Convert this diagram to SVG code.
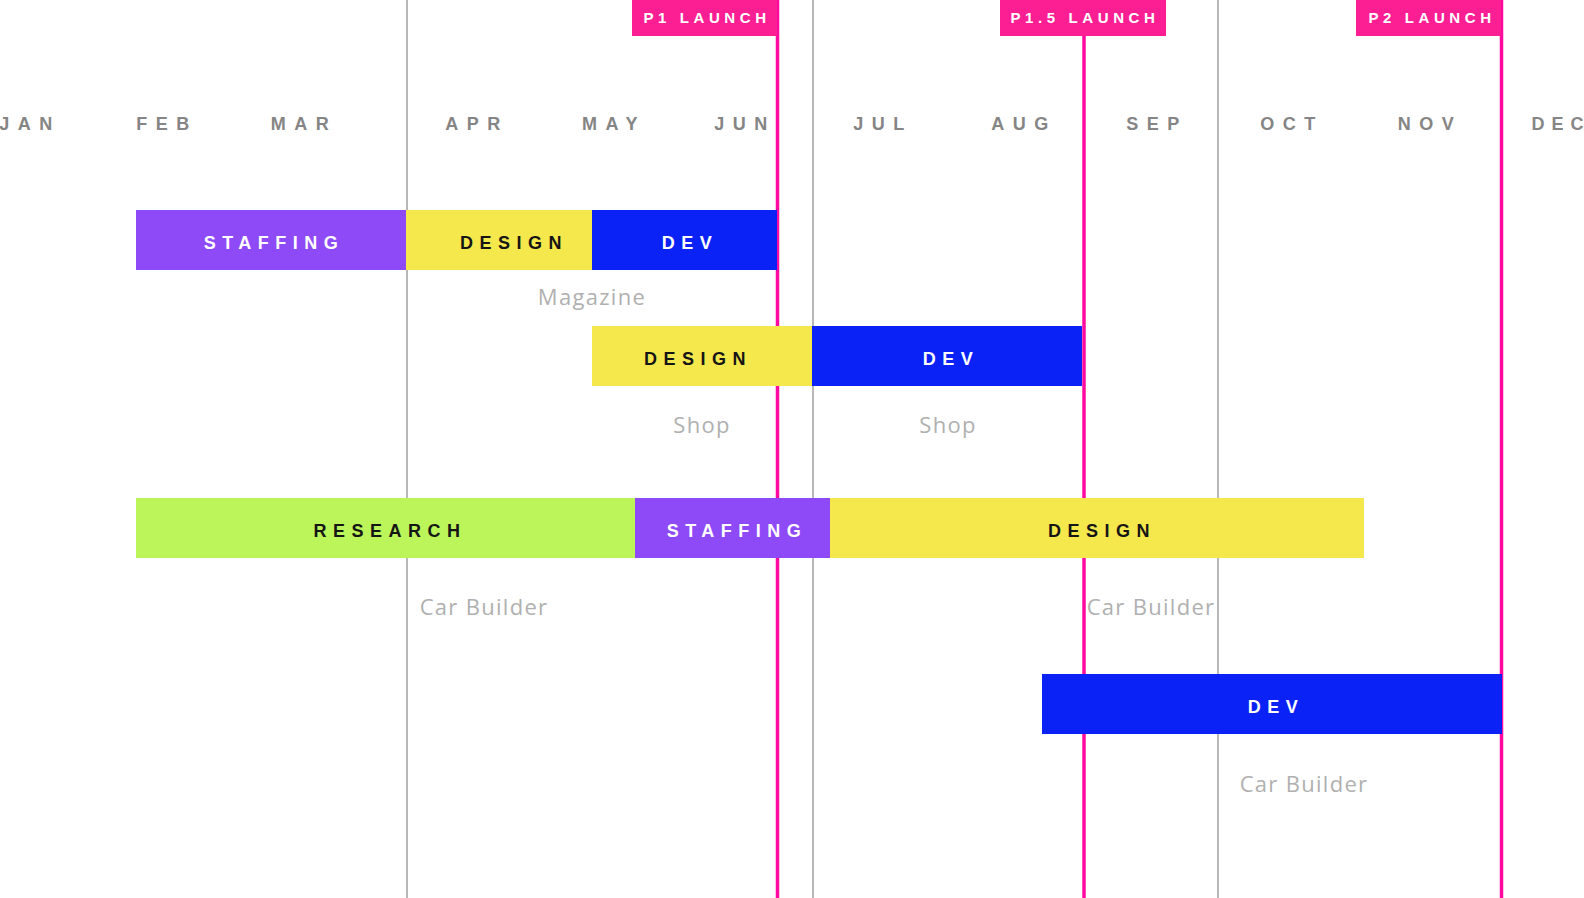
<svg xmlns="http://www.w3.org/2000/svg" width="1584" height="898" viewBox="0 0 1584 898">
<style>
.month{font-family:"Liberation Sans",Arial,sans-serif;font-weight:bold;font-size:18px;letter-spacing:8.5px;fill:#858585;text-anchor:middle}
.bl{font-family:"Liberation Sans",Arial,sans-serif;font-weight:bold;font-size:18px;letter-spacing:6.5px;text-anchor:middle}
.dark{fill:#151515}
.light{fill:#ffffff}
.tag{font-family:"Liberation Sans",Arial,sans-serif;font-weight:bold;font-size:15px;letter-spacing:4.6px;fill:#ffffff;text-anchor:middle}
.sub{font-family:"Open Sans","Liberation Sans",sans-serif;font-size:22px;letter-spacing:1.3px;fill:#b0b0b0;text-anchor:middle}
.grid{stroke:#b8b8b8;stroke-width:2}
.launch{stroke:#ff0aa0;stroke-width:3.5}
.tagbox{fill:#fc1f94}
.purple{fill:#8f4af8}
.yellow{fill:#f5e84c}
.blue{fill:#0a22f5}
.green{fill:#bbf55a}
</style>
<rect width="1584" height="898" fill="#ffffff"/>
<g id="months">
<text class="month" x="30" y="130">JAN</text>
<text class="month" x="167" y="130">FEB</text>
<text class="month" x="304" y="130">MAR</text>
<text class="month" x="477" y="130">APR</text>
<text class="month" x="614" y="130">MAY</text>
<text class="month" x="745" y="130">JUN</text>
<text class="month" x="883" y="130">JUL</text>
<text class="month" x="1024" y="130">AUG</text>
<text class="month" x="1157" y="130">SEP</text>
<text class="month" x="1292" y="130">OCT</text>
<text class="month" x="1430" y="130">NOV</text>
<text class="month" x="1561" y="130" style="letter-spacing:7px">DEC</text>
</g>
<g id="connectors">
<line class="grid" x1="407" y1="0" x2="407" y2="898"/>
<line class="grid" x1="813" y1="0" x2="813" y2="898"/>
<line class="grid" x1="1218" y1="0" x2="1218" y2="898"/>
<line class="launch" x1="777.5" y1="0" x2="777.5" y2="898"/>
<line class="launch" x1="1084" y1="0" x2="1084" y2="898"/>
<line class="launch" x1="1501.5" y1="0" x2="1501.5" y2="898"/>
</g>
<g id="row1">
<g id="r1-staffing"><rect class="purple" x="136" y="210" width="270" height="60"/><text class="bl light" x="274" y="249">STAFFING</text></g>
<g id="r1-design"><rect class="yellow" x="406" y="210" width="186" height="60"/><text class="bl dark" x="514" y="249">DESIGN</text></g>
<g id="r1-dev"><rect class="blue" x="592" y="210" width="185" height="60"/><text class="bl light" x="690" y="249">DEV</text></g>
<text class="sub" x="592" y="305">Magazine</text>
</g>
<g id="row2">
<g id="r2-design"><rect class="yellow" x="592" y="326" width="220" height="60"/><text class="bl dark" x="698" y="365">DESIGN</text></g>
<g id="r2-dev"><rect class="blue" x="812" y="326" width="270" height="60"/><text class="bl light" x="951" y="365">DEV</text></g>
<text class="sub" x="702" y="433">Shop</text>
<text class="sub" x="948" y="433">Shop</text>
</g>
<g id="row3">
<g id="r3-research"><rect class="green" x="136" y="498" width="499" height="60"/><text class="bl dark" x="390" y="537">RESEARCH</text></g>
<g id="r3-staffing"><rect class="purple" x="635" y="498" width="195" height="60"/><text class="bl light" x="737" y="537">STAFFING</text></g>
<g id="r3-design"><rect class="yellow" x="830" y="498" width="534" height="60"/><text class="bl dark" x="1102" y="537">DESIGN</text></g>
<text class="sub" x="484" y="615">Car Builder</text>
<text class="sub" x="1151" y="615">Car Builder</text>
</g>
<g id="row4">
<g id="r4-dev"><rect class="blue" x="1042" y="674" width="460" height="60"/><text class="bl light" x="1276" y="713">DEV</text></g>
<text class="sub" x="1304" y="792">Car Builder</text>
</g>
<g id="launches">
<g id="p1"><rect class="tagbox" x="632" y="0" width="145" height="36"/><text class="tag" x="707" y="23">P1 LAUNCH</text></g>
<g id="p15"><rect class="tagbox" x="1000" y="0" width="166" height="36"/><text class="tag" x="1085" y="23">P1.5 LAUNCH</text></g>
<g id="p2"><rect class="tagbox" x="1356" y="0" width="145" height="36"/><text class="tag" x="1432" y="23">P2 LAUNCH</text></g>
</g>
</svg>
